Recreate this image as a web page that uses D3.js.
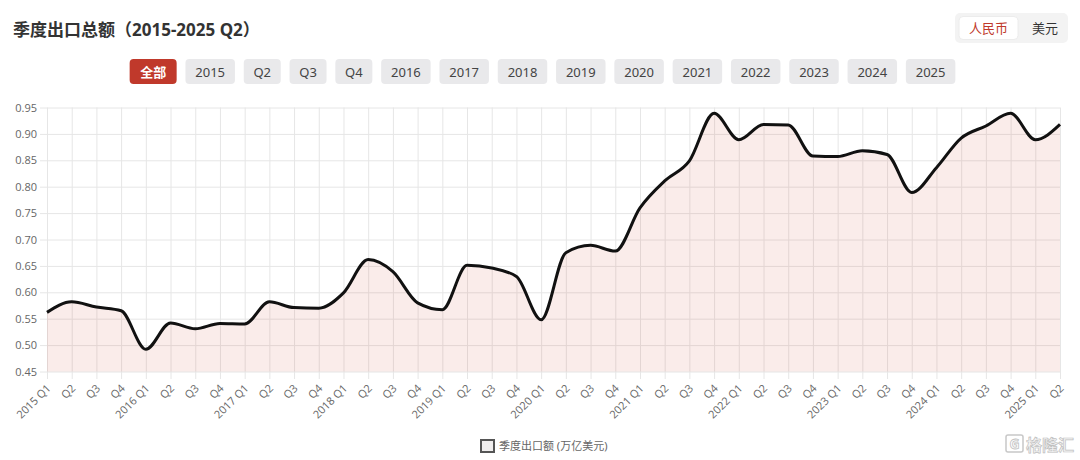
<!doctype html>
<html>
<head>
<meta charset="UTF-8" />
<script src="https://cdn.jsdelivr.net/npm/d3@7"></script>
<style>
  html, body { margin: 0; padding: 0; background: #fff; }
  svg { display: block; font-family: "Noto Sans", "Noto Sans CJK SC", sans-serif; }
</style>
</head>
<body>
<svg id="chart" width="1080" height="460"></svg>
<script>
// ---- data ----
const quarterLabels = [
  "2015 Q1", "Q2", "Q3", "Q4",
  "2016 Q1", "Q2", "Q3", "Q4",
  "2017 Q1", "Q2", "Q3", "Q4",
  "2018 Q1", "Q2", "Q3", "Q4",
  "2019 Q1", "Q2", "Q3", "Q4",
  "2020 Q1", "Q2", "Q3", "Q4",
  "2021 Q1", "Q2", "Q3", "Q4",
  "2022 Q1", "Q2", "Q3", "Q4",
  "2023 Q1", "Q2", "Q3", "Q4",
  "2024 Q1", "Q2", "Q3", "Q4",
  "2025 Q1", "Q2"
];
const exportValues = [
  0.562, 0.582, 0.572, 0.565,
  0.492, 0.542, 0.531, 0.541,
  0.540, 0.582, 0.571, 0.570,
  0.599, 0.662, 0.639, 0.580,
  0.567, 0.651, 0.646, 0.630,
  0.548, 0.675, 0.689, 0.678,
  0.760, 0.811, 0.849, 0.939,
  0.889, 0.918, 0.917, 0.858,
  0.857, 0.868, 0.861, 0.789,
  0.836, 0.892, 0.915, 0.939,
  0.889, 0.918
];
const yTicks = [0.45, 0.50, 0.55, 0.60, 0.65, 0.70, 0.75, 0.80, 0.85, 0.90, 0.95];
const filterButtons = ["全部", "2015", "Q2", "Q3", "Q4", "2016", "2017", "2018", "2019",
                       "2020", "2021", "2022", "2023", "2024", "2025"];
const currencyOptions = ["人民币", "美元"];
const chartTitle = "季度出口总额（2015-2025 Q2）";
const legendLabel = "季度出口额 (万亿美元)";

(function () {
  const svg = d3.select("#chart");
  const red = "#c0392b";

  // title
  svg.append("text")
    .attr("x", 13).attr("y", 36)
    .attr("font-size", 17).attr("font-weight", 700)
    .attr("fill", "#333")
    .text(chartTitle);

  // currency toggle (top right)
  svg.append("rect")
    .attr("x", 955).attr("y", 13).attr("width", 113).attr("height", 30)
    .attr("rx", 5).attr("fill", "#f3f3f3");
  svg.append("rect")
    .attr("x", 959).attr("y", 16.5).attr("width", 59).attr("height", 23)
    .attr("rx", 4).attr("fill", "#fff")
    .attr("stroke", "#ececec");
  const currencyX = [988.5, 1045];
  currencyOptions.forEach(function (c, i) {
    svg.append("text")
      .attr("x", currencyX[i]).attr("y", 33)
      .attr("text-anchor", "middle")
      .attr("font-size", 13)
      .attr("fill", i === 0 ? red : "#333")
      .text(c);
  });

  // filter button row
  const btnWidth = function (b) {
    if (b === "全部") return 47;
    if (b.length === 2) return 37;
    return 49.5;
  };
  const gap = 8.8;
  const rowWidth = d3.sum(filterButtons, btnWidth) + gap * (filterButtons.length - 1);
  let bx = 542.5 - rowWidth / 2;
  filterButtons.forEach(function (b, i) {
    const w = btnWidth(b);
    svg.append("rect")
      .attr("x", bx).attr("y", 59).attr("width", w).attr("height", 25)
      .attr("rx", 4)
      .attr("fill", i === 0 ? red : "#e9e9eb");
    svg.append("text")
      .attr("x", bx + w / 2).attr("y", 76.5)
      .attr("text-anchor", "middle")
      .attr("font-size", 13)
      .attr("font-weight", i === 0 ? 700 : 400)
      .attr("fill", i === 0 ? "#fff" : "#444")
      .text(b);
    bx += w + gap;
  });

  // ---- scales ----
  const plotLeft = 47, plotRight = 1060, plotTop = 107.5, plotBottom = 371.5;
  const x = d3.scalePoint().domain(d3.range(quarterLabels.length)).range([plotLeft, plotRight]);
  const y = d3.scaleLinear().domain([0.45, 0.95]).range([plotBottom, plotTop]);

  // horizontal grid + y labels
  const yAxis = svg.append("g")
    .attr("transform", "translate(40,0)")
    .call(d3.axisLeft(y).tickValues(yTicks).tickFormat(d3.format(".2f"))
      .tickSize(-(plotRight - 40)).tickPadding(3));
  yAxis.select(".domain").remove();
  yAxis.selectAll("line").attr("stroke", "#e6e6e6");
  yAxis.selectAll("text")
    .attr("font-size", 11).attr("fill", "#666")
    .attr("font-family", "\"Open Sans\", \"Noto Sans\", sans-serif");

  // vertical grid + rotated x labels
  const xAxis = svg.append("g")
    .attr("transform", "translate(0," + plotTop + ")")
    .call(d3.axisBottom(x).tickFormat(function (i) { return quarterLabels[i]; })
      .tickSize(379 - plotTop));
  xAxis.select(".domain").remove();
  xAxis.selectAll("line").attr("stroke", "#e6e6e6");
  xAxis.selectAll("text")
    .attr("x", 0).attr("y", 0).attr("dy", 0)
    .attr("text-anchor", "end")
    .attr("transform", "translate(4," + (389 - plotTop) + ") rotate(-45)")
    .attr("font-size", 11).attr("fill", "#666")
    .attr("font-family", "\"Open Sans\", \"Noto Sans\", sans-serif");

  // area + line
  const curve = d3.curveMonotoneX;
  svg.append("path")
    .datum(exportValues)
    .attr("fill", "rgba(205, 70, 50, 0.1)")
    .attr("d", d3.area()
      .x(function (d, i) { return x(i); })
      .y0(y(0.45))
      .y1(function (d) { return y(d); })
      .curve(curve));

  svg.append("path")
    .datum(exportValues)
    .attr("fill", "none")
    .attr("stroke", "#111")
    .attr("stroke-width", 3)
    .attr("stroke-linejoin", "round")
    .attr("d", d3.line()
      .x(function (d, i) { return x(i); })
      .y(function (d) { return y(d); })
      .curve(curve));

  // legend
  svg.append("rect")
    .attr("x", 481).attr("y", 440).attr("width", 13).attr("height", 12)
    .attr("fill", "#f0eeee").attr("stroke", "#555").attr("stroke-width", 2);
  svg.append("text")
    .attr("x", 499).attr("y", 450)
    .attr("font-size", 11).attr("fill", "#666")
    .text(legendLabel);

  // watermark
  svg.append("rect")
    .attr("x", 1006).attr("y", 435).attr("width", 17).attr("height", 17)
    .attr("rx", 2).attr("fill", "none").attr("stroke", "#c8c8c8").attr("stroke-width", 1.5);
  svg.append("text")
    .attr("x", 1014.5).attr("y", 449).attr("text-anchor", "middle")
    .attr("font-size", 14).attr("font-weight", 700)
    .attr("fill", "none").attr("stroke", "#c0c0c0").attr("stroke-width", 0.8)
    .text("G");
  svg.append("text")
    .attr("x", 1026).attr("y", 451)
    .attr("font-size", 16).attr("font-weight", 700)
    .attr("fill", "#f4f4f4").attr("stroke", "#c0c0c0").attr("stroke-width", 0.7)
    .text("格隆汇");
})();
</script>
</body>
</html>
